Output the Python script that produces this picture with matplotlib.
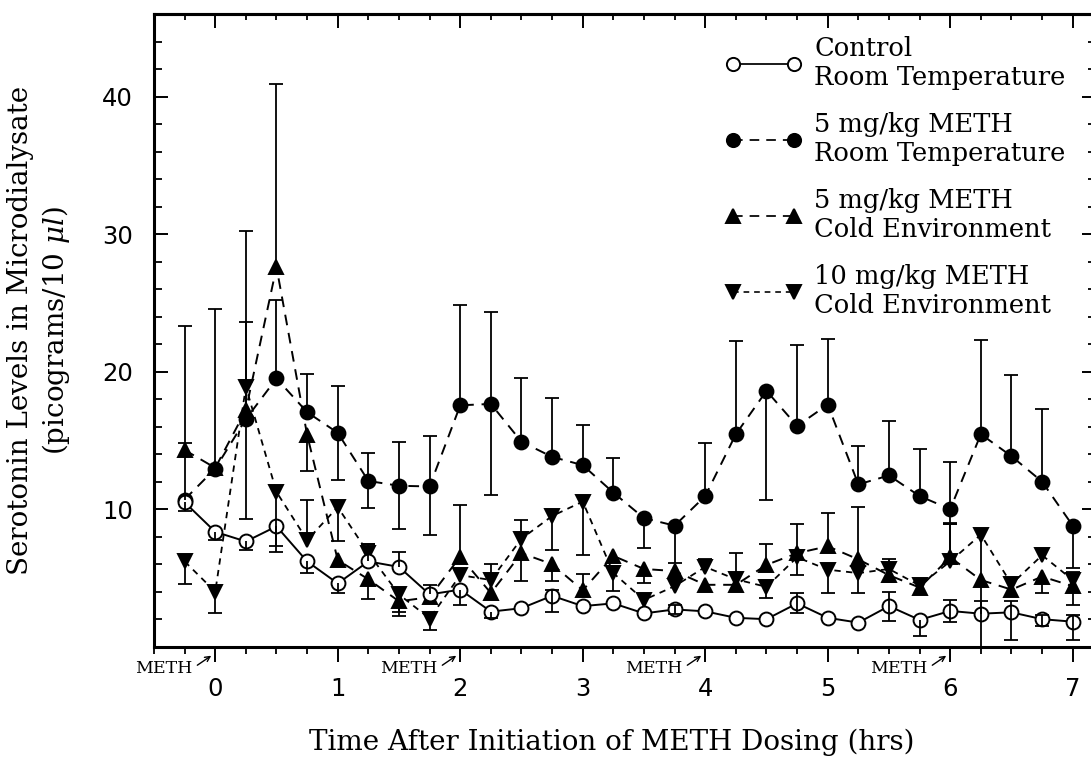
import numpy as np
import matplotlib
matplotlib.use("Agg")
import matplotlib.pyplot as plt
from matplotlib.lines import Line2D
from matplotlib.ticker import MultipleLocator, FixedLocator
import matplotlib.transforms as mtransforms

plt.rcParams['font.family'] = ['DejaVu Sans']
plt.rcParams['mathtext.fontset'] = 'dejavuserif'

# ---------------- data ----------------
times = [-0.25, 0.0, 0.25, 0.5, 0.75, 1.0, 1.25, 1.5, 1.75, 2.0,
         2.25, 2.5, 2.75, 3.0, 3.25, 3.5, 3.75, 4.0, 4.25, 4.5,
         4.75, 5.0, 5.25, 5.5, 5.75, 6.0, 6.25, 6.5, 6.75, 7.0]

control = [10.5, 8.35, 7.65, 8.75, 6.2, 4.6, 6.2, 5.8, 3.8, 4.15,
           2.55, 2.8, 3.7, 2.95, 3.15, 2.42, 2.71, 2.57, 2.1, 2.0,
           3.15, 2.1, 1.75, 2.95, 1.95, 2.6, 2.4, 2.5, 2.0, 1.82]
control_hi = [0, 0, 0, 0, 0, 0, 1.3, 1.1, 0.7, 0,
              0, 0, 0.45, 0, 0, 0, 0.3, 0, 0, 0,
              0.75, 0, 0, 1.0, 0, 0.8, 0.9, 0.8, 0.3, 0.5]
control_lo = [0.6, 0.6, 0.65, 1.85, 0.85, 0.7, 0, 0, 0, 1.1,
              0.45, 0, 1.15, 0, 0, 0, 0.3, 0, 0, 0,
              0.7, 0, 0, 1.05, 1.2, 0.8, 0, 2.0, 0.5, 1.3]

meth5_room = [10.7, 12.95, 16.55, 19.5, 17.05, 15.55, 12.05, 11.7, 11.65, 17.55,
              17.65, 14.9, 13.8, 13.2, 11.2, 9.35, 8.8, 10.95, 15.45, 18.6,
              16.05, 17.6, 11.8, 12.45, 10.95, 10.0, 15.45, 13.85, 12.0, 8.8]
meth5_room_hi = [12.6, 11.6, 13.65, 5.7, 2.8, 3.4, 2.05, 3.2, 3.65, 7.3,
                 6.7, 4.6, 4.25, 2.95, 2.55, 0, 0, 3.85, 6.8, 0,
                 5.85, 4.8, 2.8, 3.95, 3.4, 3.45, 6.85, 5.9, 5.25, 0]
meth5_room_lo = [0, 0, 0, 0, 0, 3.4, 2.0, 3.15, 3.55, 0,
                 6.6, 0, 0, 0, 0, 2.2, 2.7, 0, 0, 7.95,
                 0, 0, 0, 0, 0, 1.1, 0, 0, 0, 3.1]

meth5_cold = [14.3, 13.0, 17.2, 27.6, 15.4, 6.3, 4.9, 3.3, 3.6, 6.55,
              3.9, 6.8, 6.0, 4.1, 6.6, 5.65, 5.5, 4.5, 4.5, 5.95,
              6.8, 7.3, 6.35, 5.2, 4.3, 6.5, 4.85, 4.15, 5.1, 4.4]
meth5_cold_hi = [0.5, 0, 6.4, 13.3, 0, 0, 0, 0, 0, 3.75,
                 0, 0, 0, 1.2, 0, 0, 0, 0, 0, 1.55,
                 2.15, 2.4, 3.8, 0, 0, 2.5, 0, 0, 0, 0]
meth5_cold_lo = [0, 0, 0, 0, 2.6, 0.4, 1.4, 1.1, 0, 0,
                 0, 2.0, 1.2, 0, 0, 1.0, 0, 0, 0, 0,
                 0, 0, 0, 0.5, 0, 0, 0, 0, 1.2, 1.4]

meth10_cold = [6.2, 4.0, 18.9, 11.25, 7.75, 10.15, 6.8, 3.8, 2.05, 5.2,
               4.85, 7.85, 9.5, 10.55, 5.35, 3.4, 4.4, 5.8, 4.9, 4.35,
               6.5, 5.6, 5.35, 5.65, 4.45, 6.2, 8.15, 4.55, 6.65, 4.85]
meth10_cold_hi = [0, 0, 0, 0, 2.95, 0, 0.7, 0, 0, 0,
                  1.15, 1.35, 0, 0, 0.5, 0, 0, 0.55, 1.9, 0,
                  0, 0, 0, 0.75, 0, 2.75, 0, 0, 0, 0.55]
meth10_cold_lo = [1.65, 1.55, 9.6, 3.9, 0, 2.5, 0, 1.3, 0.8, 0,
                  0, 0, 2.45, 3.9, 1.3, 0, 0, 0, 0, 0.8,
                  1.3, 1.7, 1.45, 0, 0, 0, 8.6, 0, 0, 0]

meth_dose_times = [0, 2, 4, 6]
x_major_ticks = [0, 1, 2, 3, 4, 5, 6, 7]
y_major_ticks = [10, 20, 30, 40]

labels = ['Control\nRoom Temperature',
          '5 mg/kg METH\nRoom Temperature',
          '5 mg/kg METH\nCold Environment',
          '10 mg/kg METH\nCold Environment']

# ---------------- figure ----------------
W, H = 1091, 759
fig = plt.figure(figsize=(W / 100, H / 100), dpi=100)
ax_l, ax_r, ax_t, ax_b = 154, 1096, 14, 646.7
ax = fig.add_axes([ax_l / W, (H - ax_b) / H, (ax_r - ax_l) / W, (ax_b - ax_t) / H])
ax.set_xlim(-0.5, 7.19)
ax.set_ylim(0, 46)

styles = [
    dict(y=control, hi=control_hi, lo=control_lo, marker='o', mfc='white', ms=10,
         ls='-', lw=1.4, z=4),
    dict(y=meth5_room, hi=meth5_room_hi, lo=meth5_room_lo, marker='o', mfc='black', ms=10,
         ls=(0, (5.5, 4)), lw=1.4, z=3),
    dict(y=meth5_cold, hi=meth5_cold_hi, lo=meth5_cold_lo, marker='^', mfc='black', ms=10,
         ls=(0, (5.5, 4)), lw=1.4, z=3),
    dict(y=meth10_cold, hi=meth10_cold_hi, lo=meth10_cold_lo, marker='v', mfc='black', ms=10,
         ls=(0, (3.5, 3)), lw=1.3, z=3),
]

t = np.array(times)
handles = []
for s in styles:
    ax.plot(t, s['y'], color='black', linestyle=s['ls'], lw=s['lw'], marker=s['marker'],
            ms=s['ms'], mfc=s['mfc'], mec='black', mew=1.4, zorder=s['z'])
    y = np.array(s['y'])
    hi = np.array(s['hi'])
    lo = np.array(s['lo'])
    has = (hi > 0) | (lo > 0)
    ax.vlines(t[has], (y - lo)[has], (y + hi)[has], color='black', lw=1.3, zorder=5)
    for err, sgn in ((hi, 1), (lo, -1)):
        m = err > 0
        ax.plot(t[m], (y + sgn * err)[m], ls='none', marker='_', ms=10, mew=1.3,
                color='black', zorder=5)
    handles.append(Line2D([], [], color='black', linestyle=s['ls'], lw=s['lw'] * 0.9,
                          marker=s['marker'], ms=s['ms'] * 0.95, mfc=s['mfc'],
                          mec='black', mew=1.4))

# legend
leg = ax.legend(handles, labels, loc='upper left',
                bbox_to_anchor=((725 - ax_l) / (ax_r - ax_l), (ax_b - 36) / (ax_b - ax_t)),
                frameon=False, numpoints=2, handlelength=2.97, handletextpad=0.5,
                labelspacing=0.86, borderpad=0, borderaxespad=0,
                prop=dict(family='DejaVu Serif', size=18.5))

# spines
for sp in ax.spines.values():
    sp.set_linewidth(2.2)

# x ticks (bottom outward, top inward)
ax.xaxis.set_major_locator(FixedLocator(x_major_ticks))
ax.xaxis.set_minor_locator(MultipleLocator(0.25))
ax.tick_params(axis='x', which='major', direction='out', length=10.5, width=1.4,
               top=False, labelsize=17.5, pad=11)
ax.tick_params(axis='x', which='minor', direction='out', length=5, width=1.3, top=False)
sec = ax.secondary_xaxis('top')
sec.xaxis.set_major_locator(FixedLocator(x_major_ticks))
sec.xaxis.set_minor_locator(MultipleLocator(0.25))
sec.tick_params(axis='x', which='major', direction='in', length=10, width=1.4, labeltop=False)
sec.tick_params(axis='x', which='minor', direction='in', length=4.5, width=1.3)
sec.spines['top'].set_linewidth(2.2)

# y ticks (both sides inward)
ax.yaxis.set_major_locator(FixedLocator(y_major_ticks))
ax.yaxis.set_minor_locator(MultipleLocator(2))
ax.tick_params(axis='y', which='major', direction='in', length=10, width=1.4,
               left=True, right=True, labelsize=17.5, pad=15)
ax.tick_params(axis='y', which='minor', direction='in', length=5.5, width=1.3,
               left=True, right=True)

# labels
ax.set_xlabel('Time After Initiation of METH Dosing (hrs)', family='DejaVu Serif',
              fontsize=20, va='center')
ax.xaxis.set_label_coords((612 - ax_l) / (ax_r - ax_l), (ax_b - 742) / (ax_b - ax_t))
ax.set_ylabel('Serotonin Levels in Microdialysate\n(picograms/10 $\\mu l$)',
              family='DejaVu Serif', fontsize=20, va='center', linespacing=1.25)
ax.yaxis.set_label_coords((40 - ax_l) / (ax_r - ax_l), 0.5)

# METH dosing annotations
tip = mtransforms.offset_copy(ax.get_xaxis_transform(), fig=fig, x=-4, y=-9, units='dots')
for d in meth_dose_times:
    ax.annotate('METH', xy=(d, 0), xycoords=tip, xytext=(-19, -13), textcoords='offset pixels',
                ha='right', va='center', family='DejaVu Serif', fontsize=12.5,
                arrowprops=dict(arrowstyle='->', lw=1.0, shrinkA=2, shrinkB=0,
                                mutation_scale=9, color='black', relpos=(1.0, 0.5)),
                annotation_clip=False)

fig.savefig('out.png', dpi=100)
